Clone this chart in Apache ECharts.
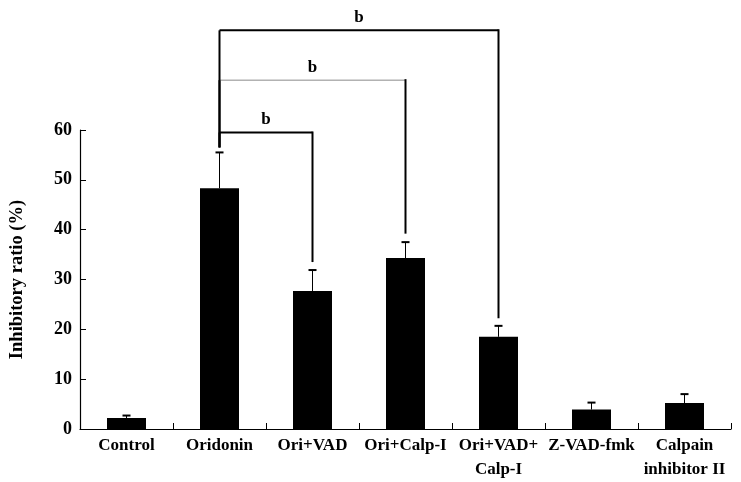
<!DOCTYPE html>
<html>
<head>
<meta charset="utf-8">
<script src="https://cdn.jsdelivr.net/npm/echarts@6/dist/echarts.min.js"></script>
<style>
html,body{margin:0;padding:0;background:#fff;}
#chart{width:741px;height:482px;}
</style>
</head>
<body>
<div id="chart"></div>
<script>
var categories = ['Control', 'Oridonin', 'Ori+VAD', 'Ori+Calp-I', 'Ori+VAD+\nCalp-I', 'Z-VAD-fmk', 'Calpain\ninhibitor II'];
var means = [2.2, 48.3, 27.7, 34.3, 18.5, 3.9, 5.2];
var errors = [0.5, 7.2, 4.2, 3.2, 2.2, 1.4, 1.8];
var yTicks = [0, 10, 20, 30, 40, 50, 60];
// significance brackets: from category, to category, bracket level, right foot, left foot
var bracketFrom = [1, 1, 1];
var bracketTo = [2, 3, 4];
var bracketLevel = [59.5, 70, 80];
var bracketRightFoot = [33.5, 39.2, 22.2];
var bracketLeftFoot = [56.5, 56.5, 56.5];
var bracketLabel = ['b', 'b', 'b'];

var FONT = '"Liberation Serif", "Times New Roman", serif';
var chart = echarts.init(document.getElementById('chart'));

var errData = means.map(function (m, i) { return [i, m, m + errors[i]]; });
var brData = bracketFrom.map(function (f, i) {
  return [f, bracketTo[i], bracketLevel[i], bracketRightFoot[i], bracketLeftFoot[i], i];
});
var bracketStyles = [
  { top: '#000', topWidth: 2 },
  { top: '#8a8a8a', topWidth: 1 },
  { top: '#000', topWidth: 2 }
];

chart.setOption({
  animation: false,
  grid: { left: 79, right: 10, top: 130, bottom: 52 },
  xAxis: {
    type: 'category',
    data: categories,
    boundaryGap: true,
    axisLine: { lineStyle: { color: '#000', width: 1.2 } },
    axisTick: { show: true, inside: true, length: 6, alignWithLabel: false, lineStyle: { color: '#000' } },
    axisLabel: {
      interval: 0, margin: 5, color: '#000',
      fontFamily: FONT, fontWeight: 'bold', fontSize: 17, lineHeight: 24
    }
  },
  yAxis: {
    type: 'value',
    min: 0, max: 60, interval: 10,
    name: 'Inhibitory ratio (%)',
    nameLocation: 'middle',
    nameGap: 53,
    nameRotate: 90,
    nameTextStyle: { color: '#000', fontFamily: FONT, fontWeight: 'bold', fontSize: 18.5 },
    splitLine: { show: false },
    axisLine: { show: true, lineStyle: { color: '#000', width: 1.2 } },
    axisTick: { show: true, inside: true, length: 6, lineStyle: { color: '#000' } },
    axisLabel: {
      margin: 8, color: '#000', fontFamily: FONT, fontWeight: 'bold', fontSize: 18,
      formatter: function (v) { return yTicks.indexOf(v) >= 0 ? String(v) : ''; }
    }
  },
  series: [
    {
      type: 'bar',
      data: means,
      barWidth: 39,
      itemStyle: { color: '#000' }
    },
    {
      type: 'custom',
      data: errData,
      encode: { x: 0, y: [1, 2] },
      z: 5,
      renderItem: function (params, api) {
        var x = api.value(0);
        var p0 = api.coord([x, api.value(1)]);
        var p1 = api.coord([x, api.value(2)]);
        var cw = 4;
        return {
          type: 'group',
          children: [
            { type: 'line', shape: { x1: p0[0], y1: p0[1], x2: p1[0], y2: p1[1] }, style: { stroke: '#000', lineWidth: 1 } },
            { type: 'line', shape: { x1: p1[0] - cw, y1: p1[1], x2: p1[0] + cw, y2: p1[1] }, style: { stroke: '#000', lineWidth: 2 } }
          ]
        };
      }
    },
    {
      type: 'custom',
      data: brData,
      encode: { x: [0, 1], y: [2, 3, 4] },
      clip: false,
      z: 6,
      renderItem: function (params, api) {
        var f = api.value(0), t = api.value(1), lv = api.value(2), rf = api.value(3), lf = api.value(4);
        var idx = api.value(5);
        var a = api.coord([f, lf]);
        var b = api.coord([f, lv]);
        var c = api.coord([t, lv]);
        var d = api.coord([t, rf]);
        var st = bracketStyles[idx];
        return {
          type: 'group',
          children: [
            { type: 'line', shape: { x1: a[0], y1: a[1], x2: b[0], y2: b[1] }, style: { stroke: '#000', lineWidth: 2 } },
            { type: 'line', shape: { x1: b[0], y1: b[1], x2: c[0], y2: c[1] }, style: { stroke: st.top, lineWidth: st.topWidth } },
            { type: 'line', shape: { x1: c[0], y1: c[1] - 1, x2: d[0], y2: d[1] }, style: { stroke: '#000', lineWidth: 2 } },
            { type: 'text', style: {
                text: bracketLabel[idx], x: (b[0] + c[0]) / 2, y: b[1] - 4,
                textAlign: 'center', textVerticalAlign: 'bottom',
                font: 'bold 17px ' + FONT, fill: '#000'
              } }
          ]
        };
      }
    }
  ]
});
</script>
</body>
</html>
